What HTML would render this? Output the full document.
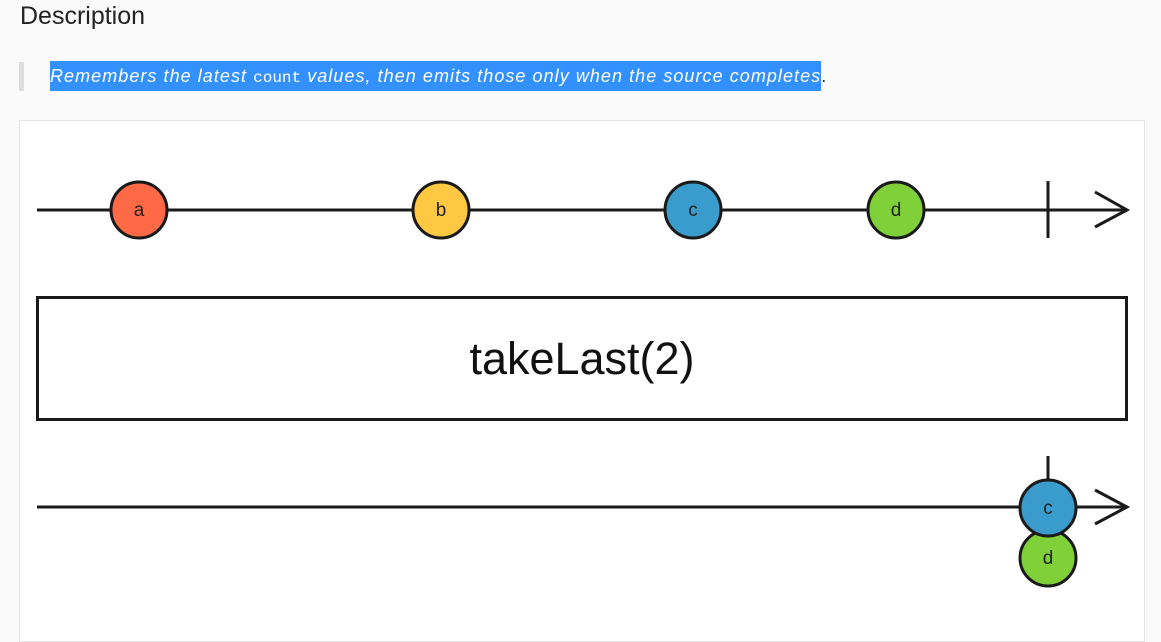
<!DOCTYPE html>
<html><head><style>
body{margin:0;width:1161px;height:635px;background:#fafafa;font-family:"Liberation Sans",sans-serif;overflow:hidden;position:relative}
h2{position:absolute;left:20px;top:0;margin:0;font-weight:normal;font-size:25px;color:#222;line-height:32px}
.bar{position:absolute;left:19px;top:62px;width:5px;height:29px;background:#ddd}
.line{position:absolute;left:50px;top:61px;height:30px;line-height:30px;font-size:18px;color:#333;white-space:nowrap}
.q{font-style:italic;color:#fff;background:#3390ff;letter-spacing:1.05px;display:inline-block;height:30px}
.q code{font-family:"Liberation Mono",monospace;font-style:normal;font-size:16px;letter-spacing:0}
.box{position:absolute;left:19px;top:120px;width:1124px;height:520px;background:#fff;border:1px solid #e4e4e4}
svg{position:absolute;left:0;top:0}
</style></head><body>
<h2>Description</h2>
<div class="bar"></div>
<div class="line"><span class="q">Remembers the latest <code>count</code> values, then emits those only when the source completes</span>.</div>
<div class="box"></div>
<svg width="1161" height="635" font-family="Liberation Sans, sans-serif">
<g stroke="#1a1a1a" stroke-width="3" fill="none">
<line x1="37" y1="210" x2="1127" y2="210"/>
<line x1="1048" y1="181" x2="1048" y2="238"/>
<polyline points="1095,192 1127,210 1095,227"/>
<rect x="37.5" y="297.5" width="1089" height="122"/>
<line x1="37" y1="507" x2="1127" y2="507"/>
<line x1="1048" y1="456" x2="1048" y2="480"/>
<polyline points="1095,490 1127,507 1095,524"/>
</g>
<g stroke="#1a1a1a" stroke-width="3">
<circle cx="139" cy="210" r="28" fill="#ff6946"/>
<circle cx="441" cy="210" r="28" fill="#ffc843"/>
<circle cx="693" cy="210" r="28" fill="#3a9ccc"/>
<circle cx="896" cy="210" r="28" fill="#80d03a"/>
<circle cx="1048" cy="558" r="28" fill="#80d03a"/>
<circle cx="1048" cy="508" r="28" fill="#3a9ccc"/>
</g>
<g font-size="19" fill="#222" text-anchor="middle">
<text x="139" y="216">a</text><text x="441" y="216">b</text><text x="693" y="216">c</text><text x="896" y="216">d</text>
<text x="1048" y="514">c</text><text x="1048" y="564">d</text>
</g>
<text x="582" y="374" font-size="45" text-anchor="middle" fill="#111">takeLast(2)</text>
</svg>
</body></html>
